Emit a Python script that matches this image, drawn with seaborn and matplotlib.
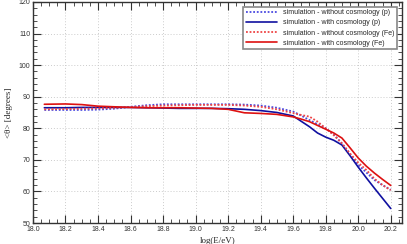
import numpy as np
import pandas as pd
import matplotlib
matplotlib.use("Agg")
import matplotlib.pyplot as plt
import seaborn as sns
from matplotlib.ticker import MultipleLocator

sns.set_theme(style="ticks")
plt.rcParams['font.family'] = ['Liberation Sans', 'DejaVu Sans']

# data
logE = [18.07, 18.2, 18.3, 18.4, 18.5, 18.6, 18.7, 18.8, 18.9, 19.0, 19.1, 19.2, 19.3, 19.4,
        19.5, 19.6, 19.65, 19.7, 19.75, 19.8, 19.85, 19.9, 19.95, 20.0, 20.05, 20.1, 20.15, 20.2]
p_nocosmo = [85.8, 85.8, 85.8, 85.9, 86.2, 86.8, 87.3, 87.6, 87.6, 87.6, 87.6, 87.6, 87.5, 87.2,
             86.5, 85.3, 84.0, 82.6, 81.3, 80.0, 78.0, 75.2, 71.8, 68.4, 66.0, 63.6, 62.0, 60.5]
p_cosmo = [86.5, 86.5, 86.6, 86.6, 86.6, 86.6, 86.5, 86.4, 86.3, 86.3, 86.3, 86.2, 86.0, 85.6,
           85.0, 83.9, 82.2, 80.5, 78.5, 77.2, 76.2, 74.7, 71.3, 67.7, 64.3, 61.0, 57.8, 54.6]
fe_nocosmo = [86.0, 86.1, 86.2, 86.3, 86.5, 86.7, 87.0, 87.2, 87.3, 87.4, 87.4, 87.4, 87.2, 86.8,
              86.0, 84.8, 84.2, 83.7, 82.1, 80.0, 77.8, 75.2, 72.0, 69.1, 66.8, 64.0, 62.0, 60.4]
fe_cosmo = [87.6, 87.7, 87.5, 87.0, 86.8, 86.6, 86.5, 86.5, 86.5, 86.4, 86.3, 86.0, 84.9, 84.7,
            84.4, 83.6, 82.9, 82.1, 80.9, 79.7, 78.5, 76.9, 73.8, 70.6, 68.0, 65.8, 63.8, 61.9]

labels = ["simulation - without cosmology (p)", "simulation - with cosmology (p)",
          "simulation - without cosmology (Fe)", "simulation - with cosmology (Fe)"]
series = [p_nocosmo, p_cosmo, fe_nocosmo, fe_cosmo]

rows = []
for lab, vals in zip(labels, series):
    for x, v in zip(logE, vals):
        rows.append({"logE": x, "theta": v, "series": lab})
df = pd.DataFrame(rows)

fig = plt.figure(figsize=(4.07, 2.44), dpi=100)
ax = fig.add_axes([0.081, 0.086, 0.907, 0.906])

colors = {labels[0]: "#4a4ae0", labels[1]: "#1010a0", labels[2]: "#ee4444", labels[3]: "#dd1111"}
styles = {labels[0]: (0, (1, 1)), labels[1]: "-", labels[2]: (0, (1, 1)), labels[3]: "-"}
widths = {labels[0]: 1.3, labels[1]: 1.2, labels[2]: 1.3, labels[3]: 1.2}

for lab in labels:
    sub = df[df["series"] == lab]
    sns.lineplot(data=sub, x="logE", y="theta", ax=ax, color=colors[lab],
                 linestyle=styles[lab], linewidth=widths[lab], label=lab)

ax.set_xlim(18.0, 20.27)
ax.set_ylim(50, 120)
ax.xaxis.set_minor_locator(MultipleLocator(0.05))
ax.yaxis.set_major_locator(MultipleLocator(10))
ax.yaxis.set_minor_locator(MultipleLocator(2))
xt = np.arange(18.0, 20.21, 0.2)
ax.set_xticks(xt)
ax.set_xticklabels([f"{v:.1f}" for v in xt])
ax.grid(True, which="major", color="#cccccc", linestyle=(0, (1, 2)), linewidth=0.7)
ax.tick_params(which="both", direction="in", top=True, right=True, labelsize=5, pad=2, colors="#333333")
ax.tick_params(which="major", length=6, width=0.8)
ax.tick_params(which="minor", length=3, width=0.6)
for s in ax.spines.values():
    s.set_linewidth(1.0)
    s.set_color("#333333")

ax.set_xlabel("log(E/eV)", family=["Liberation Serif", "DejaVu Serif"], fontsize=6.5, labelpad=3)
ax.set_ylabel("<θ> [degrees]", family=["Liberation Serif", "DejaVu Serif"], fontsize=6.5, labelpad=4)

leg = ax.legend(loc="upper right", fontsize=5, frameon=True, fancybox=False,
                handlelength=4.5, borderpad=0.4, labelspacing=0.45, bbox_to_anchor=(0.995, 0.995))
leg.get_frame().set_edgecolor("#888888")
leg.get_frame().set_linewidth(1.2)
leg.get_frame().set_alpha(1)

fig.savefig("out.png", dpi=100)
